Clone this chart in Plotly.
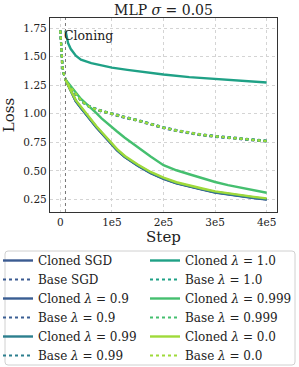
import plotly.graph_objects as go

# ---------------- data ----------------
base_steps = [0, 2000, 4000, 6000, 8000, 10000, 15000, 20000, 25000, 30000, 40000, 50000,
              60000, 80000, 100000, 125000, 150000, 175000, 200000, 225000, 250000,
              275000, 300000, 325000, 350000, 375000, 400000]
base_sgd = [1.73, 1.55, 1.42, 1.36, 1.32, 1.30, 1.255, 1.225, 1.200, 1.175, 1.115, 1.075,
            1.050, 1.020, 0.994, 0.965, 0.938, 0.905, 0.874, 0.849, 0.828,
            0.811, 0.798, 0.788, 0.777, 0.767, 0.757]
base_09 = [1.73, 1.55, 1.42, 1.36, 1.32, 1.30, 1.263, 1.233, 1.208, 1.183, 1.123, 1.083,
           1.058, 1.028, 1.002, 0.973, 0.946, 0.913, 0.882, 0.857, 0.836,
           0.819, 0.806, 0.796, 0.784, 0.774, 0.764]
base_099 = [1.73, 1.55, 1.42, 1.36, 1.32, 1.30, 1.258, 1.228, 1.203, 1.178, 1.118, 1.078,
            1.053, 1.023, 0.997, 0.968, 0.941, 0.908, 0.877, 0.852, 0.831,
            0.814, 0.801, 0.791, 0.780, 0.770, 0.760]
base_10 = [1.73, 1.55, 1.42, 1.36, 1.32, 1.30, 1.260, 1.230, 1.205, 1.180, 1.120, 1.080,
           1.055, 1.025, 0.999, 0.970, 0.943, 0.910, 0.879, 0.854, 0.833,
           0.816, 0.803, 0.793, 0.781, 0.771, 0.761]
base_0999 = [1.73, 1.55, 1.42, 1.36, 1.32, 1.30, 1.261, 1.231, 1.206, 1.181, 1.121, 1.081,
             1.056, 1.026, 1.000, 0.971, 0.944, 0.911, 0.880, 0.855, 0.834,
             0.817, 0.804, 0.794, 0.782, 0.772, 0.762]
base_00 = [1.73, 1.55, 1.42, 1.36, 1.32, 1.30, 1.259, 1.229, 1.204, 1.179, 1.119, 1.079,
           1.054, 1.024, 0.998, 0.969, 0.942, 0.909, 0.878, 0.853, 0.832,
           0.815, 0.802, 0.792, 0.780, 0.770, 0.760]

clone_steps = [10000, 15000, 20000, 30000, 40000, 50000, 60000, 70000, 80000, 90000,
               100000, 110000, 125000, 150000, 175000, 200000, 225000, 250000, 275000,
               300000, 325000, 350000, 375000, 400000]
clone_sgd = [1.30, 1.25, 1.20, 1.11, 1.05, 0.99, 0.93, 0.88, 0.83, 0.78,
             0.73, 0.68, 0.62, 0.545, 0.48, 0.43, 0.39, 0.36, 0.335,
             0.31, 0.292, 0.275, 0.262, 0.248]
clone_09 = [1.30, 1.25, 1.20, 1.112, 1.052, 0.992, 0.932, 0.882, 0.832, 0.782,
            0.732, 0.682, 0.622, 0.547, 0.482, 0.432, 0.392, 0.362, 0.337,
            0.312, 0.294, 0.277, 0.264, 0.250]
clone_099 = [1.30, 1.25, 1.20, 1.114, 1.054, 0.994, 0.934, 0.884, 0.834, 0.784,
             0.734, 0.684, 0.624, 0.549, 0.484, 0.434, 0.394, 0.364, 0.339,
             0.314, 0.296, 0.279, 0.266, 0.252]
clone_00 = [1.30, 1.25, 1.205, 1.12, 1.06, 1.00, 0.94, 0.89, 0.84, 0.79,
            0.74, 0.69, 0.63, 0.555, 0.49, 0.44, 0.40, 0.37, 0.345,
            0.32, 0.302, 0.285, 0.272, 0.258]
clone_0999 = [1.30, 1.27, 1.24, 1.18, 1.13, 1.09, 1.05, 1.005, 0.96, 0.92,
              0.88, 0.845, 0.79, 0.705, 0.625, 0.55, 0.505, 0.47, 0.435,
              0.402, 0.374, 0.35, 0.328, 0.308]
clone10_steps = [10000, 12000, 15000, 20000, 30000, 40000, 60000, 80000, 100000, 130000,
                 160000, 200000, 250000, 300000, 350000, 400000]
clone_10 = [1.73, 1.67, 1.62, 1.57, 1.51, 1.475, 1.445, 1.425, 1.405, 1.385,
            1.365, 1.345, 1.322, 1.305, 1.29, 1.275]

cloning_step = 10000

x_tickvals = [0, 100000, 200000, 300000, 400000]
x_ticktext = ["0", "1e5", "2e5", "3e5", "4e5"]
y_tickvals = [0.25, 0.50, 0.75, 1.00, 1.25, 1.50, 1.75]
y_ticktext = ["0.25", "0.50", "0.75", "1.00", "1.25", "1.50", "1.75"]

# ---------------- styling ----------------
C_SGD = "#3b5b91"
C_09 = "#3a5e93"
C_099 = "#2c7f8e"
C_10 = "#1fa186"
C_0999 = "#45bf6f"
C_00 = "#9fda3a"

SERIF = "DejaVu Serif"
TXT = "#222222"
L = "<i>λ</i>"

series = [
    ("Cloned SGD", clone_steps, clone_sgd, C_SGD, "solid", "legend", 1),
    ("Base SGD", base_steps, base_sgd, C_SGD, "dot", "legend", 2),
    (f"Cloned {L} = 0.9", clone_steps, clone_09, C_09, "solid", "legend", 3),
    (f"Base {L} = 0.9", base_steps, base_09, C_09, "dot", "legend", 4),
    (f"Cloned {L} = 0.99", clone_steps, clone_099, C_099, "solid", "legend", 5),
    (f"Base {L} = 0.99", base_steps, base_099, C_099, "dot", "legend", 6),
    (f"Cloned {L} = 1.0", clone10_steps, clone_10, C_10, "solid", "legend2", 1),
    (f"Base {L} = 1.0", base_steps, base_10, C_10, "dot", "legend2", 2),
    (f"Cloned {L} = 0.999", clone_steps, clone_0999, C_0999, "solid", "legend2", 3),
    (f"Base {L} = 0.999", base_steps, base_0999, C_0999, "dot", "legend2", 4),
    (f"Cloned {L} = 0.0", clone_steps, clone_00, C_00, "solid", "legend2", 5),
    (f"Base {L} = 0.0", base_steps, base_00, C_00, "dot", "legend2", 6),
]

fig = go.Figure()
for name, xs, ys, col, dash, leg, rank in series:
    fig.add_trace(go.Scatter(
        x=xs, y=ys, mode="lines", name=name,
        line=dict(color=col, width=2.4 if dash == "solid" else 2.2, dash=dash),
        legend=leg, legendrank=rank,
    ))

W, H = 299, 367
ML, MR, MT, MB = 50, 22, 18, 155
PW, PH = W - ML - MR, H - MT - MB


def px2x(px):
    return (px - ML) / PW


def px2y(py):
    return (H - MB - py) / PH


def f(size):
    return dict(family=SERIF, size=size, color=TXT)


# rounded legend frame
x0, x1, y0, y1, r = px2x(5), px2x(295), px2y(365), px2y(251), 3
rx, ry = r / PW, r / PH
path = (f"M {x0+rx},{y1} L {x1-rx},{y1} Q {x1},{y1} {x1},{y1-ry} "
        f"L {x1},{y0+ry} Q {x1},{y0} {x1-rx},{y0} L {x0+rx},{y0} "
        f"Q {x0},{y0} {x0},{y0+ry} L {x0},{y1-ry} Q {x0},{y1} {x0+rx},{y1} Z")

legend_common = dict(xanchor="left", yanchor="top", bgcolor="rgba(0,0,0,0)",
                     font=f(12), tracegroupgap=0, itemwidth=30, maxheight=200)

fig.update_layout(
    width=W, height=H,
    margin=dict(l=ML, r=MR, t=MT, b=MB, autoexpand=False),
    plot_bgcolor="white", paper_bgcolor="white",
    font=f(10),
    title=dict(text="MLP <i>σ</i> = 0.05", x=(ML + PW / 2) / W, xanchor="center",
               y=1 - 10 / H, yanchor="middle", font=f(14)),
    xaxis=dict(range=[-20000, 420000], tickvals=x_tickvals, ticktext=x_ticktext,
               showgrid=True, gridcolor="#d4d4d4", griddash="dot", gridwidth=1,
               zeroline=False, showline=True, mirror=True, linecolor="#333",
               linewidth=1.3, ticks="", tickfont=f(10.5), automargin=False,
               title=dict(text="Step", font=f(15), standoff=2)),
    yaxis=dict(range=[0.139, 1.84], tickvals=y_tickvals, ticktext=y_ticktext,
               showgrid=True, gridcolor="#d4d4d4", griddash="dot", gridwidth=1,
               zeroline=False, showline=True, mirror=True, linecolor="#333",
               linewidth=1.3, ticks="", tickfont=f(10.5), automargin=False,
               title=dict(text="Loss", font=f(15), standoff=9)),
    legend=dict(x=px2x(-2), y=px2y(246), **legend_common),
    legend2=dict(x=px2x(145), y=px2y(246), **legend_common),
    shapes=[
        dict(type="line", xref="x", yref="paper", x0=cloning_step, x1=cloning_step,
             y0=0, y1=1, line=dict(color="#777", width=1, dash="dot")),
        dict(type="path", xref="paper", yref="paper", path=path,
             line=dict(color="#d0d0d0", width=1), fillcolor="rgba(0,0,0,0)"),
    ],
    annotations=[
        dict(x=cloning_step, y=1.69, xref="x", yref="y", text="Cloning",
             showarrow=False, xanchor="left", yanchor="middle", xshift=-3,
             font=f(12.5)),
    ],
)

fig.write_html("out.html", config={"displayModeBar": False},
               post_script="document.body.style.margin='0px';")
